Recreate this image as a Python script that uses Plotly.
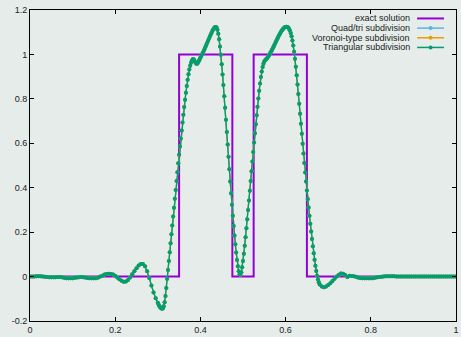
import numpy as np
import plotly.graph_objects as go

# ---------------- data ----------------
exact_x = [0.0, 0.35, 0.475, 0.525, 0.65, 1.0]
exact_y = [0, 1, 0, 1, 0, 0]

y_a = [0.000, 0.000, 0.000, 0.001, 0.001, 0.001, 0.000, -0.001, -0.002, -0.003,
       -0.003, -0.003, -0.003, -0.002, -0.002, -0.003, -0.005, -0.007, -0.008, -0.008,
       -0.007, -0.005, -0.004, -0.003, -0.002, -0.003, -0.004, -0.006, -0.007, -0.008,
       -0.008, -0.007, -0.004, 0.000, 0.004]                                   # 0 .. 0.17 step 0.005
y_b = [0.009, 0.012, 0.013, 0.012, 0.009, 0.004, -0.004, -0.012, -0.019, -0.023,
       -0.022, -0.015, -0.004, 0.010, 0.024, 0.038, 0.050, 0.057, 0.057, 0.047,
       0.024, -0.006, -0.040, -0.072, -0.098]                                   # 0.175 .. 0.295 step 0.005
y_c = [-0.118, -0.127, -0.134, -0.139, -0.143, -0.145, -0.143, -0.134, -0.116, -0.088,
       -0.052, -0.010, 0.030, 0.070, 0.110, 0.150, 0.190, 0.230, 0.270, 0.310,
       0.350, 0.390, 0.430, 0.470, 0.510, 0.548, 0.585, 0.622, 0.658, 0.694,
       0.729, 0.763, 0.796, 0.828, 0.858, 0.886, 0.911, 0.932, 0.949, 0.962,
       0.972, 0.978, 0.978, 0.973, 0.965, 0.959, 0.958, 0.962, 0.969, 0.977,
       0.985, 0.993, 1.001, 1.009, 1.017, 1.026, 1.035, 1.044, 1.053, 1.062,
       1.071, 1.080, 1.089, 1.097, 1.105, 1.112, 1.118, 1.122, 1.124, 1.121,
       1.111, 1.093, 1.068, 1.036, 0.998, 0.956, 0.910, 0.862, 0.812, 0.760,
       0.706, 0.651, 0.595, 0.539, 0.483, 0.428, 0.375, 0.323, 0.274, 0.228,
       0.185, 0.145, 0.108, 0.075, 0.046, 0.024, 0.010, 0.008, 0.020, 0.042,
       0.070, 0.103, 0.139, 0.177, 0.217, 0.258, 0.300, 0.343, 0.386, 0.430,
       0.474, 0.518, 0.561, 0.603, 0.645, 0.686, 0.726, 0.765, 0.802, 0.837,
       0.869, 0.898, 0.923, 0.943, 0.958, 0.968, 0.974, 0.978, 0.982, 0.987,
       0.993, 0.999, 1.006, 1.013, 1.020, 1.028, 1.036, 1.044, 1.052, 1.060,
       1.068, 1.076, 1.084, 1.091, 1.098, 1.104, 1.110, 1.115, 1.119, 1.122,
       1.124, 1.125, 1.124, 1.121, 1.116, 1.108, 1.097, 1.082, 1.063, 1.040,
       1.012, 0.980, 0.945, 0.906, 0.865, 0.822, 0.778, 0.733, 0.688, 0.643,
       0.598, 0.554, 0.511, 0.469, 0.428, 0.388, 0.349, 0.311, 0.274, 0.238,
       0.203, 0.169, 0.136, 0.105, 0.076, 0.049, 0.025, 0.004, -0.013, -0.026,
       -0.036]                                                                   # 0.300 .. 0.680 step 0.002
y_d = [-0.045, -0.048, -0.045, -0.038, -0.030, -0.020, -0.010, 0.000, 0.008, 0.014,
       0.013, 0.007, -0.002, 0.004, 0.003]                                       # 0.685 .. 0.755 step 0.005
y_e = [0.002, -0.001, -0.004, -0.006, -0.008, -0.008, -0.008, -0.008, -0.008, -0.007,
       -0.005, -0.003, -0.002, -0.001, 0.000, 0.001, 0.001, 0.001, 0.001, 0.001,
       0.000, 0.000, 0.000, 0.000, 0.000, 0.000, 0.000, 0.000, 0.000, 0.000,
       0.000, 0.000, 0.000, 0.000, 0.000, 0.000, 0.000, 0.000, 0.000, 0.000,
       0.000, 0.000, 0.000, 0.000, 0.000, 0.000, 0.000, 0.000, 0.000]            # 0.76 .. 1.0 step 0.005

x_num = np.concatenate([
    np.linspace(0.0, 0.17, len(y_a)),
    np.linspace(0.175, 0.295, len(y_b)),
    np.linspace(0.300, 0.680, len(y_c)),
    np.linspace(0.685, 0.755, len(y_d)),
    np.linspace(0.76, 1.0, len(y_e)),
])
y_num = y_a + y_b + y_c + y_d + y_e
quad_y = y_num
voronoi_y = y_num
tri_y = y_num

series_names = ["exact solution", "Quad/tri subdivision", "Voronoi-type subdivision", "Triangular subdivision"]
series_colors = ["#9400d3", "#56b4e9", "#e69f00", "#009e73"]

x_ticks = [0, 0.2, 0.4, 0.6, 0.8, 1]
x_ticktext = ["0", "0.2", "0.4", "0.6", "0.8", "1"]
y_ticks = [-0.2, 0, 0.2, 0.4, 0.6, 0.8, 1, 1.2]
y_ticktext = ["-0.2", "0", "0.2", "0.4", "0.6", "0.8", "1", "1.2"]

# ---------------- figure ----------------
BG = "rgb(229,236,234)"
FONT = "Liberation Sans, Arial, sans-serif"
W, H = 461, 337
ML, MR, MT, MB = 30, 2.4, 10, 14.7

fig = go.Figure()
fig.add_trace(go.Scatter(x=exact_x, y=exact_y, mode="lines",
                         line=dict(color=series_colors[0], width=2, shape="hv"),
                         name=series_names[0]))
for yy, col, nm in [(quad_y, series_colors[1], series_names[1]),
                    (voronoi_y, series_colors[2], series_names[2]),
                    (tri_y, series_colors[3], series_names[3])]:
    fig.add_trace(go.Scatter(x=x_num, y=yy, mode="lines+markers",
                             line=dict(color=col, width=1.3),
                             marker=dict(color=col, size=4, symbol="circle"),
                             name=nm))

# custom gnuplot-like legend (text right, sample on the right)
pw = W - ML - MR
ph = H - MT - MB
def px2x(px):
    return (px - ML) / pw
def py2y(py):
    return (H - MB - py) / ph

rows = [18.5, 28.2, 37.9, 47.6]
annotations = []
for i, nm in enumerate(series_names):
    yy = py2y(rows[i])
    annotations.append(dict(x=px2x(414), y=yy, xref="paper", yref="paper",
                            text=nm, showarrow=False, xanchor="right", yanchor="middle",
                            font=dict(family=FONT, size=9, color="#222")))
    fig.add_trace(go.Scatter(x=[px2x(419.5), px2x(446.5)], y=[yy, yy], mode="lines",
                             line=dict(color=series_colors[i], width=2 if i == 0 else 1.5),
                             xaxis="x2", yaxis="y2", showlegend=False, hoverinfo="skip",
                             cliponaxis=False))
    if i > 0:
        fig.add_trace(go.Scatter(x=[px2x(433)], y=[yy], mode="markers",
                                 marker=dict(color=series_colors[i], size=4),
                                 xaxis="x2", yaxis="y2", showlegend=False, hoverinfo="skip",
                                 cliponaxis=False))

axis_common = dict(showline=True, linecolor="black", linewidth=1, mirror="ticks",
                   ticks="inside", ticklen=4, tickcolor="black", showgrid=False,
                   zeroline=False, tickfont=dict(family=FONT, size=9, color="#222"),
                   ticklabeloverflow="allow")

fig.update_layout(
    width=W, height=H,
    margin=dict(l=ML, r=MR, t=MT, b=MB, pad=0),
    paper_bgcolor=BG, plot_bgcolor=BG,
    showlegend=False,
    xaxis=dict(range=[0, 1], tickvals=x_ticks, ticktext=x_ticktext, **axis_common),
    yaxis=dict(range=[-0.2, 1.2], tickvals=y_ticks, ticktext=y_ticktext, **axis_common),
    xaxis2=dict(range=[0, 1], overlaying="x", visible=False, anchor="y2"),
    yaxis2=dict(range=[0, 1], overlaying="y", visible=False, anchor="x2"),
    annotations=annotations,
)

fig.write_html("out.html")
